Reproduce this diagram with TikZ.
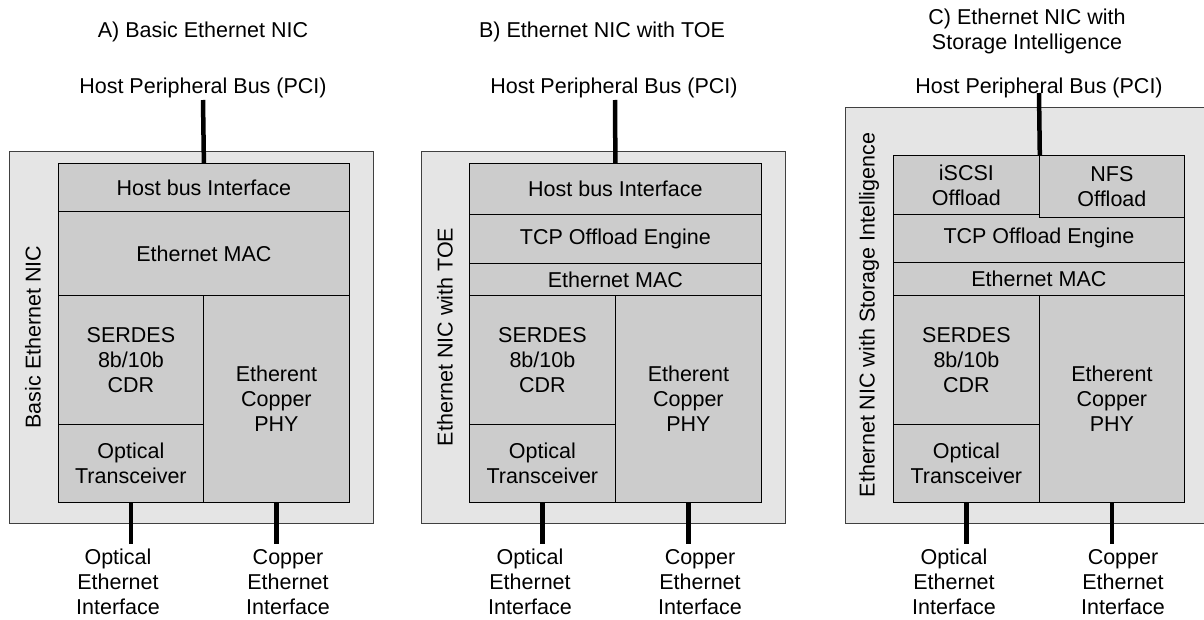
\documentclass[tikz,border=0pt]{standalone}
\usepackage{fontspec}
\setmainfont{Liberation Sans}
\definecolor{nicfill}{gray}{0.9}
\definecolor{blkfill}{gray}{0.8}

\begin{document}
\begin{tikzpicture}[x=1pt,y=-1pt]
\tikzstyle{every node}+=[inner sep=0pt, font=\fontsize{21.5}{25}\selectfont, align=center]
\tikzstyle{nic}=[draw=black!75, fill=nicfill, line width=0.8pt, anchor=north west]
\tikzstyle{blk}=[draw=black, fill=blkfill, line width=0.8pt, anchor=north west]
\tikzstyle{bus}=[line width=4.5pt]
\useasboundingbox (0,0) rectangle (1204,620);
% A) basic NIC
\node (titleA) at (203,32) {A) Basic Ethernet NIC};
\node (pciA) at (203,88) {Host Peripheral Bus (PCI)};
\node [nic, minimum width=364pt, minimum height=372pt] (nicA) at (9,151) {};
\node [rotate=90] (sideA) at (33,337) {Basic Ethernet NIC};
\node [blk, minimum width=291pt, minimum height=48pt] (hbA) at (58,163) {Host bus Interface};
\node [blk, minimum width=291pt, minimum height=84pt] (macA) at (58,211) {Ethernet MAC};
\node [blk, minimum width=145pt, minimum height=129pt] (serA) at (58,295) {SERDES\\8b/10b\\CDR};
\node [blk, minimum width=145pt, minimum height=78pt] (optA) at (58,424) {Optical\\Transceiver};
\node [blk, minimum width=146pt, minimum height=207pt] (cuA) at (203,295) {Etherent\\Copper\\PHY};
\coordinate (pA) at (203,100);
\path (optA.south) ++(0,41) coordinate (oA);
\path (cuA.south) ++(0,41) coordinate (cA);
\draw [bus] (pA) -- (hbA.north);
\draw [bus] (optA.south) -- (oA);
\draw [bus] (cuA.south) -- (cA);
\node (optlblA) at (118,582) {Optical\\Ethernet\\Interface};
\node (culblA) at (288,582) {Copper\\Ethernet\\Interface};
% B) NIC with TOE
\node (titleB) at (602,32) {B) Ethernet NIC with TOE};
\node (pciB) at (614,88) {Host Peripheral Bus (PCI)};
\node [nic, minimum width=364pt, minimum height=372pt] (nicB) at (421,151) {};
\node [rotate=90] (sideB) at (445,337) {Ethernet NIC with TOE};
\node [blk, minimum width=292pt, minimum height=51pt] (hbB) at (469,163) {Host bus Interface};
\node [blk, minimum width=292pt, minimum height=49pt] (toeB) at (469,214) {TCP Offload Engine};
\node [blk, minimum width=292pt, minimum height=32pt] (macB) at (469,263) {Ethernet MAC};
\node [blk, minimum width=146pt, minimum height=129pt] (serB) at (469,295) {SERDES\\8b/10b\\CDR};
\node [blk, minimum width=146pt, minimum height=78pt] (optB) at (469,424) {Optical\\Transceiver};
\node [blk, minimum width=146pt, minimum height=207pt] (cuB) at (615,295) {Etherent\\Copper\\PHY};
\coordinate (pB) at (615,100);
\path (optB.south) ++(0,41) coordinate (oB);
\path (cuB.south) ++(0,41) coordinate (cB);
\draw [bus] (pB) -- (hbB.north);
\draw [bus] (optB.south) -- (oB);
\draw [bus] (cuB.south) -- (cB);
\node (optlblB) at (530,582) {Optical\\Ethernet\\Interface};
\node (culblB) at (700,582) {Copper\\Ethernet\\Interface};
% C) NIC with storage intelligence
\node (titleC) at (1027,31) {C) Ethernet NIC with\\Storage Intelligence};
\node (pciC) at (1039,88) {Host Peripheral Bus (PCI)};
\node [nic, minimum width=360pt, minimum height=416pt] (nicC) at (845,107) {};
\node [rotate=90] (sideC) at (869,315) {Ethernet NIC with Storage Intelligence};
\node [blk, minimum width=146pt, minimum height=59pt] (iscsiC) at (893,155) {iSCSI\\Offload};
\node [blk, minimum width=291pt, minimum height=48pt] (toeC) at (893,214) {TCP Offload Engine};
\node [blk, minimum width=145pt, minimum height=62pt] (nfsC) at (1039,155) {NFS\\Offload};
\node [blk, minimum width=291pt, minimum height=33pt] (macC) at (893,262) {Ethernet MAC};
\node [blk, minimum width=146pt, minimum height=129pt] (serC) at (893,295) {SERDES\\8b/10b\\CDR};
\node [blk, minimum width=146pt, minimum height=78pt] (optC) at (893,424) {Optical\\Transceiver};
\node [blk, minimum width=145pt, minimum height=207pt] (cuC) at (1039,295) {Etherent\\Copper\\PHY};
\coordinate (pC) at (1039,93);
\path (optC.south) ++(0,41) coordinate (oC);
\path (cuC.south) ++(0,41) coordinate (cC);
\draw [bus] (pC) -- (iscsiC.north east);
\draw [bus] (optC.south) -- (oC);
\draw [bus] (cuC.south) -- (cC);
\node (optlblC) at (954,582) {Optical\\Ethernet\\Interface};
\node (culblC) at (1123,582) {Copper\\Ethernet\\Interface};
\end{tikzpicture}
\end{document}
